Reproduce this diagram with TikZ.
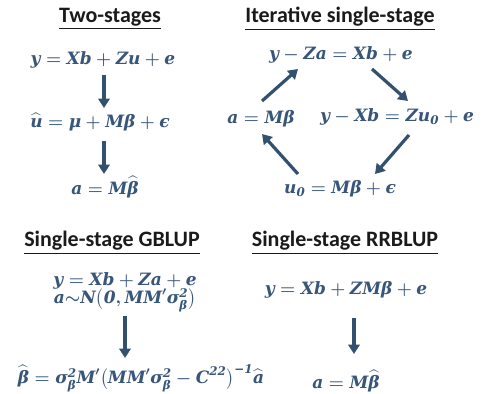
\documentclass[tikz,border=0pt]{standalone}
\usepackage{amsmath}
\usepackage{fontspec}
\setmainfont{Carlito}
\newfontfamily\eqfont{DejaVu Serif}
\usetikzlibrary{arrows.meta}
\definecolor{eqc}{HTML}{38567A}
\definecolor{arc}{HTML}{33506F}
\definecolor{hdc}{HTML}{1A1A1A}
\newcommand\vv[1]{\text{#1}}
\begin{document}
\begin{tikzpicture}[x=1pt,y=-1pt,
  eq/.style={inner sep=0pt,text=eqc,font={\fontsize{17}{19}\selectfont\eqfont\bfseries\itshape\boldmath}},
  hd/.style={inner sep=1pt,text=hdc,font={\fontsize{22}{24}\selectfont\bfseries}},
  arr/.style={draw=arc,line width=3.2pt,-{Triangle[width=11.5pt,length=9.5pt]}}]
\useasboundingbox (0,0) rectangle (488,394);
% Two-stages
\node[hd] (h1) at (110,19) {\underline{Two-stages}};
\node[eq] (t1) at (103,60) {$\vv{y} = \vv{Xb} + \vv{Zu} + \vv{e}$};
\node[eq] (t2) at (100,122) {$\widehat{\vv{u}} = \vv{μ} + \vv{Mβ} + \vv{ϵ}$};
\node[eq] (t3) at (105,187) {$\vv{a} = \vv{M}\widehat{\vv{β}}$};
\coordinate (t1b) at (104,75);
\coordinate (t2a) at (104,108);
\coordinate (t2b) at (104,141);
\coordinate (t3a) at (104,174);
\draw[arr] (t1b) -- (t2a);
\draw[arr] (t2b) -- (t3a);
% Iterative
\node[hd] (h2) at (340,19) {\underline{Iterative single-stage}};
\node[eq] (i1) at (341,55) {$\vv{y} - \vv{Za} = \vv{Xb} + \vv{e}$};
\node[eq] (i2) at (397,117) {$\vv{y} - \vv{Xb} = \vv{Zu}_{\vv{0}} + \vv{e}$};
\node[eq] (i3) at (340,189) {$\vv{u}_{\vv{0}} = \vv{Mβ} + \vv{ϵ}$};
\node[eq] (i4) at (261,119) {$\vv{a} = \vv{Mβ}$};
\coordinate (c1) at (262,101);
\coordinate (c2) at (298,69);
\coordinate (c3) at (372,69);
\coordinate (c4) at (408,101);
\coordinate (c5) at (409,135);
\coordinate (c6) at (375,174);
\coordinate (c7) at (298,174);
\coordinate (c8) at (262,134);
\draw[arr] (c1) -- (c2);
\draw[arr] (c3) -- (c4);
\draw[arr] (c5) -- (c6);
\draw[arr] (c7) -- (c8);
% GBLUP
\node[hd] (h3) at (112,243) {\underline{Single-stage GBLUP}};
\node[eq,align=center] (g1) at (125,292) {$\vv{y} = \vv{Xb} + \vv{Za} + \vv{e}$\\[-1pt]$\vv{a}{\sim}\vv{N}\big(\vv{0},\vv{MM}^{\prime}\vv{σ}_{\vv{β}}^{\vv{2}}\big)$};
\node[eq] (g3) at (141,378) {$\widehat{\vv{β}} = \vv{σ}_{\vv{β}}^{\vv{2}}\vv{M}^{\prime}\big(\vv{MM}^{\prime}\vv{σ}_{\vv{β}}^{\vv{2}} - \vv{C}^{\vv{22}}\big)^{\vv{−1}}\widehat{\vv{a}}$};
\coordinate (g2b) at (125,316);
\coordinate (g3a) at (125,358);
\draw[arr] (g2b) -- (g3a);
% RRBLUP
\node[hd] (h4) at (345,243) {\underline{Single-stage RRBLUP}};
\node[eq] (r1) at (346,290) {$\vv{y} = \vv{Xb} + \vv{ZMβ} + \vv{e}$};
\node[eq] (r2) at (346,381) {$\vv{a} = \vv{M}\widehat{\vv{β}}$};
\coordinate (r1b) at (354,318);
\coordinate (r2a) at (354,354);
\draw[arr] (r1b) -- (r2a);
\end{tikzpicture}
\end{document}
